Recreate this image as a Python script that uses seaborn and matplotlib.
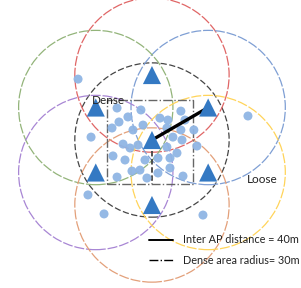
import numpy as np
import pandas as pd
import matplotlib
matplotlib.use('Agg')
import matplotlib.pyplot as plt
from matplotlib.patches import Circle, Rectangle
from matplotlib.lines import Line2D
import seaborn as sns

# access points (m), centre AP at origin, ring of six at 40 m
ap_names = ['centre', 'top', 'upper_right', 'upper_left', 'lower_left', 'bottom', 'lower_right']
ap_x = [0.0, 0.0, 34.6, -34.6, -34.6, 0.0, 34.6]
ap_y = [0.0, 40.0, 20.0, 20.0, -20.0, -40.0, -20.0]
ap_colors = ['#454545', '#e06666', '#7f9fd4', '#93b47a', '#a886d4', '#e3a07a', '#ffd45a']
coverage_radius = 47.5

# users (m)
user_x = [-45.5, -37.5, -39.4, -29.5, 31.4, 59.1,
          -21.5, -6.8, 17.8, -14.8, 4.9, 9.8, 20.3, -20.3, -5.5, -24.6,
          -11.7, 9.2, 17.8, 25.8, 12.9, 18.5, -17.8, -8.6, -13.5, 9.2,
          27.7, 15.4, -24.0, -16.6, -4.3, 3.7, 11.1, -7.4, -12.3, 3.7,
          11.1, -21.5, -3.1, 19.1]
user_y = [37.5, 1.8, -33.8, -45.5, -46.2, 14.8,
          19.7, 18.5, 17.8, 14.2, 13.5, 12.3, 12.3, 11.1, 9.2, 7.4,
          6.2, 7.4, 6.2, 6.2, 1.8, 0.0, -2.5, -3.1, -4.9, -4.3,
          -3.7, -8.0, -9.8, -12.3, -12.3, -11.1, -11.1, -18.5, -19.1, -20.3,
          -17.2, -22.8, -23.4, -22.2]

# dense area square
dense_x0, dense_x1 = -27.5, 25.5
dense_y0, dense_y1 = -27.0, 24.5

aps = pd.DataFrame({'x': ap_x, 'y': ap_y, 'name': ap_names})
users = pd.DataFrame({'x': user_x, 'y': user_y})

sns.set_style('white')
fig = plt.figure(figsize=(3.01, 2.88), dpi=100)
ax = fig.add_axes([0, 0, 1, 1])

for x, y, c in zip(ap_x, ap_y, ap_colors):
    ls = (0, (5, 2)) if c == '#454545' else (0, (8, 1.5))
    ax.add_patch(Circle((x, y), coverage_radius, fill=False, edgecolor=c,
                        linewidth=0.9, linestyle=ls, zorder=1))

ax.add_patch(Rectangle((dense_x0, dense_y0), dense_x1 - dense_x0, dense_y1 - dense_y0,
                       fill=False, edgecolor='#666666', linewidth=1.0,
                       linestyle='-.', zorder=2))
ax.plot([0, 0], [-7, dense_y0], color='#444444', linewidth=1.3,
        linestyle=(0, (3, 1.5)), zorder=2)

sns.scatterplot(data=users, x='x', y='y', ax=ax, color='#8fb5e4', s=42,
                edgecolor='none', alpha=0.95, zorder=3, legend=False)

sns.lineplot(x=[ap_x[0], ap_x[2]], y=[ap_y[0], ap_y[2]], ax=ax, color='black',
             linewidth=2.4, zorder=4, legend=False)

sns.scatterplot(data=aps, x='x', y='y', ax=ax, marker='^', color='#3479c3', s=170,
                edgecolor='none', zorder=5, legend=False)

ax.text(-36.9, 24.6, 'Dense', fontsize=8.5, family='Lato', color='#222222',
        va='center', ha='left', zorder=6)
ax.text(58.5, -24.6, 'Loose', fontsize=8.5, family='Lato', color='#222222',
        va='center', ha='left', zorder=6)

handles = [Line2D([], [], color='black', linewidth=1.4),
           Line2D([], [], color='black', linewidth=1.0, linestyle='-.')]
labels = ['Inter AP distance = 40m', 'Dense area radius= 30m']
leg = fig.legend(handles, labels, loc='upper left', bbox_to_anchor=(0.495, 0.186),
                 frameon=False, prop={'family': 'Lato', 'size': 7.8},
                 handlelength=2.2, handletextpad=0.9, labelspacing=0.85,
                 borderaxespad=0, borderpad=0)
for t in leg.get_texts():
    t.set_color('#222222')

ax.set_xlim(-93.5, 91.7)
ax.set_ylim(-91.1, 86.2)
ax.set_aspect('equal')
ax.axis('off')

plt.savefig('out.png', dpi=100)
plt.close()
